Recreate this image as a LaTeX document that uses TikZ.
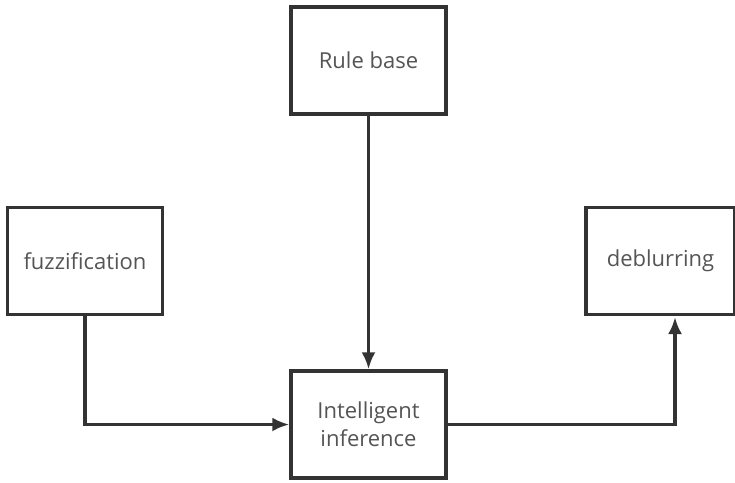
\documentclass[tikz,border=0pt]{standalone}
\usepackage{fontspec}
\setmainfont{Open Sans}
\usetikzlibrary{arrows.meta}
\definecolor{linie}{HTML}{333333}
\definecolor{schrift}{HTML}{555555}
\tikzset{
	kasten/.style={draw=linie, line width=3.4pt, fill=white, minimum width=155pt, minimum height=107pt, align=center, text=schrift, font=\fontsize{22}{28}\selectfont},
	pfeil/.style={draw=linie, line width=3.4pt, -{Latex[length=17pt,width=14pt]}}
}
\begin{document}
\begin{tikzpicture}[x=1pt,y=-1pt]
			\useasboundingbox (0,0) rectangle (735,482);
			%%Kaesten
			\node[kasten] (regel) at (368.5,60.5) {Rule base};
			\node[kasten] (fuzzy) at (85,261) {fuzzification};
			\node[kasten, minimum width=149pt] (defuzzy) at (660.5,261) {deblurring};
			\node[kasten] (inferenz) at (368.5,424.5) {Intelligent\\inference};
			\coordinate (ziel) at (675,317);

			%%Pfeile
			\draw[pfeil] (regel) -- (inferenz);
			\draw[pfeil] (fuzzy) |- (inferenz);
			\draw[pfeil] (inferenz) -| (ziel);
		\end{tikzpicture}
\end{document}
